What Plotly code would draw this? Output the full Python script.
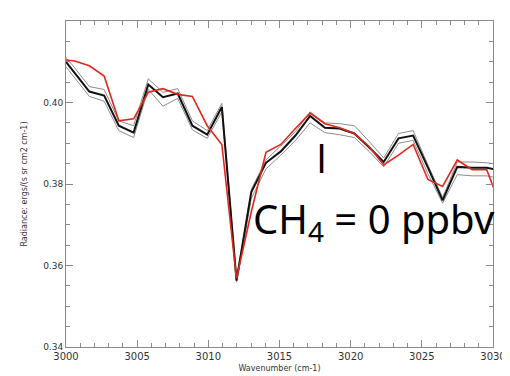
import plotly.graph_objects as go

wavenumber = [2999.58, 3000.61, 3001.64, 3002.68, 3003.71, 3004.75, 3005.78, 3006.81,
              3007.85, 3008.88, 3009.92, 3010.95, 3011.98, 3013.02, 3014.05, 3015.09,
              3016.12, 3017.15, 3018.19, 3019.22, 3020.26, 3021.29, 3022.32, 3023.36,
              3024.39, 3025.43, 3026.46, 3027.49, 3028.53, 3029.56, 3030.60]

model_mean = [0.4118, 0.4073, 0.4027, 0.4017, 0.3943, 0.3926, 0.4044, 0.4013,
              0.4022, 0.3943, 0.3921, 0.3989, 0.3563, 0.3780, 0.3852, 0.3880,
              0.3919, 0.3967, 0.3938, 0.3936, 0.3924, 0.3890, 0.3854, 0.3912,
              0.3919, 0.3840, 0.3760, 0.3842, 0.3840, 0.3840, 0.3832]

model_upper = [0.4128, 0.4085, 0.4039, 0.4032, 0.3955, 0.3943, 0.4058, 0.4025,
               0.4034, 0.3955, 0.3931, 0.3998, 0.3568, 0.3787, 0.3859, 0.3893,
               0.3928, 0.3977, 0.3950, 0.3948, 0.3943, 0.3905, 0.3864, 0.3924,
               0.3931, 0.3847, 0.3767, 0.3854, 0.3854, 0.3852, 0.3847]

model_lower = [0.4106, 0.4061, 0.4015, 0.4003, 0.3931, 0.3914, 0.4032, 0.3991,
               0.4010, 0.3933, 0.3912, 0.3977, 0.3559, 0.3765, 0.3837, 0.3871,
               0.3907, 0.3950, 0.3926, 0.3921, 0.3914, 0.3880, 0.3842, 0.3900,
               0.3907, 0.3825, 0.3753, 0.3823, 0.3820, 0.3820, 0.3813]

observed = [0.4106, 0.4102, 0.4090, 0.4065, 0.3955, 0.3960, 0.4025, 0.4034,
            0.4020, 0.4015, 0.3943, 0.3897, 0.3568, 0.3732, 0.3878, 0.3897,
            0.3936, 0.3974, 0.3948, 0.3938, 0.3924, 0.3892, 0.3847, 0.3871,
            0.3897, 0.3811, 0.3794, 0.3859, 0.3835, 0.3835, 0.3739]

x_ticks = [3000, 3005, 3010, 3015, 3020, 3025, 3030]
y_ticks = [0.34, 0.36, 0.38, 0.40]
y_ticklabels = ["0.34", "0.36", "0.38", "0.40"]

fig = go.Figure()
for ys in (model_upper, model_lower):
    fig.add_trace(go.Scatter(x=wavenumber, y=ys, mode="lines",
                             line=dict(color="#8c8c8c", width=1), showlegend=False))
fig.add_trace(go.Scatter(x=wavenumber, y=model_mean, mode="lines",
                         line=dict(color="#111111", width=2), showlegend=False))
fig.add_trace(go.Scatter(x=wavenumber, y=observed, mode="lines",
                         line=dict(color="#e3261b", width=1.6), showlegend=False))

axis_common = dict(showline=True, linecolor="#8a8a8a", linewidth=1, mirror="allticks",
                   ticks="inside", tickcolor="#8a8a8a", showgrid=False, zeroline=False)

fig.update_xaxes(range=[3000, 3030], tickvals=x_ticks, ticklen=7,
                 minor=dict(ticks="inside", dtick=1, ticklen=4, tickcolor="#8a8a8a"),
                 tickfont=dict(family="DejaVu Sans", size=10, color="#333333"),
                 title=dict(text="Wavenumber (cm-1)", standoff=4,
                            font=dict(family="DejaVu Sans", size=8, color="#333333")),
                 **axis_common)
fig.update_yaxes(range=[0.34, 0.42], tickvals=y_ticks, ticktext=y_ticklabels, ticklen=7,
                 minor=dict(ticks="inside", dtick=0.005, ticklen=4, tickcolor="#8a8a8a"),
                 tickfont=dict(family="DejaVu Sans", size=9, color="#333333"),
                 title=dict(text="Radiance: ergs/(s sr cm2 cm-1)", standoff=14,
                            font=dict(family="DejaVu Sans", size=8, color="#333333")),
                 **axis_common)

fig.add_annotation(text="I", xref="paper", yref="paper", x=(321 - 58) / 440,
                   y=(346 - 152) / 333, xanchor="center", yanchor="middle", showarrow=False,
                   font=dict(family="Open Sans", size=40, color="#000000"))
fig.add_annotation(text="CH<sub>4</sub> = 0 ppbv", xref="paper", yref="paper",
                   x=(249 - 58) / 440, y=(346 - 217) / 333, xanchor="left", yanchor="middle",
                   showarrow=False, font=dict(family="Noto Sans", size=40, color="#000000"))

fig.update_layout(width=510, height=376, margin=dict(l=58, r=12, t=13, b=30),
                  paper_bgcolor="white", plot_bgcolor="white")

fig.write_html("out.html")
